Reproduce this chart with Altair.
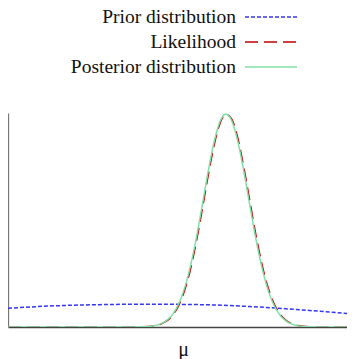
import altair as alt
import pandas as pd

series = ["Prior distribution", "Likelihood", "Posterior distribution"]
colors = ["#3535f5", "#c00000", "#80dfa6"]
dashes = [[4, 2], [13, 6], [1, 0]]
SERIF = "Liberation Serif, Times New Roman, serif"

prior_mu = [0, 42, 92, 142, 192, 242, 292, 347]
prior_vals = [0.088, 0.0986, 0.105, 0.107, 0.105, 0.096, 0.081, 0.060]

peak_mu = [0, 122, 134, 146, 152, 158, 164, 170, 176, 182, 188, 194, 200, 206, 212,
           218, 224, 230, 236, 242, 248, 254, 260, 266, 272, 278, 284, 290, 302, 314, 347]
likelihood_vals = [0, 0.0001, 0.0008, 0.0053, 0.0121, 0.0259, 0.0513, 0.0949, 0.1634,
                   0.262, 0.392, 0.545, 0.706, 0.851, 0.956, 1.0, 0.974, 0.883, 0.746,
                   0.587, 0.430, 0.294, 0.1866, 0.1105, 0.0609, 0.0313, 0.0149, 0.0067,
                   0.0011, 0.0001, 0]
posterior_vals = [0, 0.0001, 0.0009, 0.0060, 0.0135, 0.0286, 0.0561, 0.1027, 0.175,
                  0.278, 0.411, 0.566, 0.726, 0.867, 0.965, 1.0, 0.965, 0.867, 0.726,
                  0.566, 0.411, 0.278, 0.175, 0.1027, 0.0561, 0.0286, 0.0135, 0.0060,
                  0.0009, 0.0001, 0]

prior_df = pd.DataFrame({"mu": prior_mu, "p": prior_vals, "series": series[0]})
lik_df = pd.DataFrame({"mu": peak_mu, "p": likelihood_vals, "series": series[1]})
post_df = pd.DataFrame({"mu": peak_mu, "p": posterior_vals, "series": series[2]})

xscale = alt.Scale(domain=[0, 339], nice=False, zero=False)
yscale = alt.Scale(domain=[0, 1.005], nice=False)
cscale = alt.Scale(domain=series, range=colors)
dscale = alt.Scale(domain=series, range=dashes)


def curve(df):
    return alt.Chart(df).mark_line(interpolate="monotone", strokeWidth=1.5, clip=True).encode(
        x=alt.X("mu:Q", scale=xscale,
                axis=alt.Axis(title="μ", labels=False, ticks=False, grid=False,
                              domainColor="#444", domainWidth=1.6,
                              titleFont=SERIF, titleFontSize=20,
                              titleFontWeight="normal", titlePadding=12,
                              titleX=175, titleColor="#111")),
        y=alt.Y("p:Q", scale=yscale,
                axis=alt.Axis(title=None, labels=False, ticks=False, grid=False,
                              domainColor="#777", domainWidth=1.3)),
        color=alt.Color("series:N", scale=cscale, legend=None),
        strokeDash=alt.StrokeDash("series:N", scale=dscale, legend=None),
    )


main = alt.layer(curve(prior_df), curve(lik_df), curve(post_df)).properties(
    width=339, height=214
)

leg_df = pd.DataFrame({"series": series, "row": [0, 1, 2]})
leg_y_text = alt.Y("row:Q", scale=alt.Scale(domain=[-0.504, 3.296], range=[0, 95]), axis=None)
leg_y_rule = alt.Y("row:Q", scale=alt.Scale(domain=[-0.28, 3.52], range=[0, 95]), axis=None)
leg_text = alt.Chart(leg_df).mark_text(
    align="right", baseline="alphabetic", font=SERIF, fontSize=19.5, color="#111"
).encode(x=alt.value(228), y=leg_y_text, text="series:N")
leg_rule = alt.Chart(leg_df).mark_rule(strokeWidth=1.5).encode(
    x=alt.value(237), x2=alt.value(289), y=leg_y_rule,
    color=alt.Color("series:N", scale=cscale, legend=None),
    strokeDash=alt.StrokeDash("series:N", scale=dscale, legend=None),
)
legend = alt.layer(leg_text, leg_rule).resolve_scale(y="independent").properties(
    width=339, height=95
)

chart = alt.vconcat(legend, main, spacing=8).properties(
    padding={"top": -2, "left": 0, "right": 0, "bottom": 6}
).configure_view(strokeWidth=0)

chart.save("out.html", embed_options={"renderer": "svg", "actions": False})
